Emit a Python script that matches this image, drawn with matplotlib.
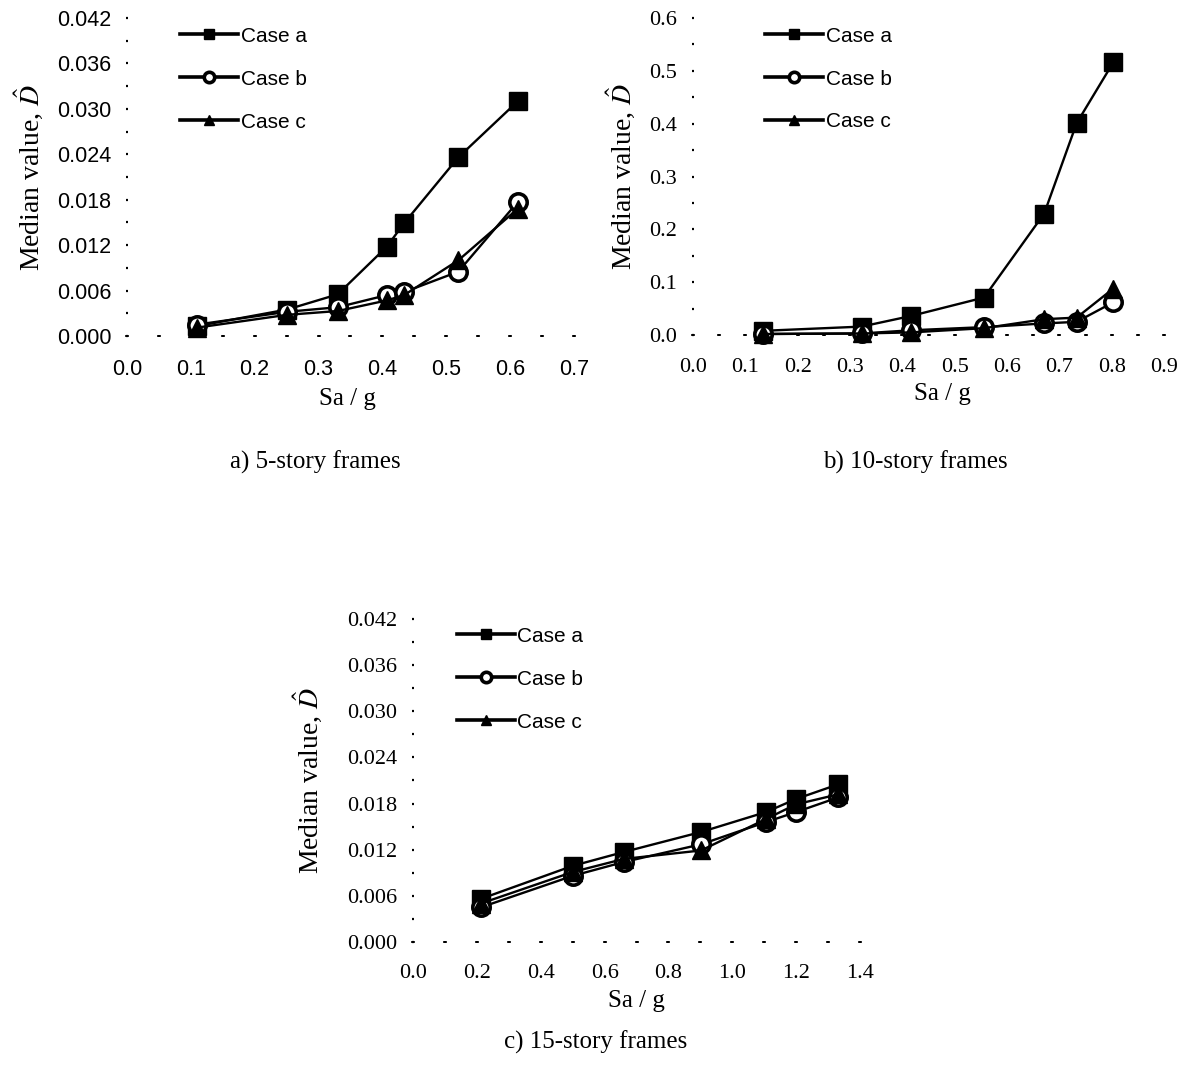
import matplotlib

matplotlib.use("Agg")
import matplotlib.pyplot as plt
from matplotlib.ticker import FormatStrFormatter, MultipleLocator

plt.rcParams["mathtext.fontset"] = "stix"

SERIF = "Liberation Serif"
SANS = "Liberation Sans"

CASE_LABELS = ["Case a", "Case b", "Case c"]

# 5-story frames
SA_5 = [0.109, 0.251, 0.330, 0.407, 0.434, 0.519, 0.612]
D5_CASE_A = [0.0013, 0.0035, 0.0055, 0.0118, 0.0149, 0.0236, 0.0310]
D5_CASE_B = [0.0015, 0.0032, 0.0038, 0.0054, 0.0058, 0.0085, 0.0177]
D5_CASE_C = [0.0011, 0.0028, 0.0033, 0.0047, 0.0054, 0.0100, 0.0168]

# 10-story frames
SA_10 = [0.134, 0.322, 0.416, 0.556, 0.671, 0.733, 0.803]
D10_CASE_A = [0.008, 0.016, 0.036, 0.071, 0.230, 0.401, 0.516]
D10_CASE_B = [0.002, 0.003, 0.009, 0.015, 0.022, 0.025, 0.062]
D10_CASE_C = [0.002, 0.003, 0.005, 0.013, 0.030, 0.033, 0.088]

# 15-story frames
SA_15 = [0.212, 0.500, 0.660, 0.902, 1.106, 1.200, 1.332]
D15_CASE_A = [0.0056, 0.0099, 0.0117, 0.0143, 0.0169, 0.0186, 0.0205]
D15_CASE_B = [0.0045, 0.0086, 0.0104, 0.0127, 0.0156, 0.0169, 0.0188]
D15_CASE_C = [0.0050, 0.0091, 0.0108, 0.0119, 0.0160, 0.0179, 0.0192]

MARKER_STYLES = [
    dict(marker="s", markersize=13, markerfacecolor="black", markeredgecolor="black"),
    dict(marker="o", markersize=12.5, markerfacecolor="white", markeredgecolor="black",
         markeredgewidth=2.6),
    dict(marker="^", markersize=13, markerfacecolor="black", markeredgecolor="black"),
]


def draw_panel(ax, sa, series, xmax, xmajor, ymax, ymajor, yfmt, tick_font,
               tick_size, legend_anchor, ylabel_x, xlabel_xy):
    for values, label, style in zip(series, CASE_LABELS, MARKER_STYLES):
        ax.plot(sa, values, color="black", linewidth=1.7, label=label,
                clip_on=False, **style)

    ax.set_xlim(0, xmax)
    ax.set_ylim(0, ymax)
    for spine in ax.spines.values():
        spine.set_visible(False)

    ax.xaxis.set_major_locator(MultipleLocator(xmajor))
    ax.xaxis.set_minor_locator(MultipleLocator(xmajor / 2))
    ax.yaxis.set_major_locator(MultipleLocator(ymajor))
    ax.yaxis.set_minor_locator(MultipleLocator(ymajor / 2))
    ax.xaxis.set_major_formatter(FormatStrFormatter("%.1f"))
    ax.yaxis.set_major_formatter(FormatStrFormatter(yfmt))

    # tick marks act as the dotted axis lines
    ax.tick_params(axis="x", which="both", direction="inout", length=1.4,
                   width=2.6, pad=15.5)
    ax.tick_params(axis="y", which="both", direction="inout", length=1.6,
                   width=1.6, pad=10.5)
    for lbl in ax.get_xticklabels() + ax.get_yticklabels():
        lbl.set_fontfamily(tick_font)
        lbl.set_fontsize(tick_size)

    ax.set_ylabel("Median value, $\\hat{D}$", fontfamily=SERIF, fontsize=20)
    ax.yaxis.set_label_coords(ylabel_x, 0.5)
    ax.set_xlabel("Sa / g", fontfamily=SERIF, fontsize=18)
    ax.xaxis.set_label_coords(*xlabel_xy)

    leg = ax.legend(loc="upper left", bbox_to_anchor=legend_anchor, frameon=False,
                    borderpad=0, borderaxespad=0, handlelength=2.8,
                    handletextpad=0.1, labelspacing=1.15, markerscale=0.6,
                    prop={"family": SANS, "size": 15})
    for line in leg.get_lines():
        line.set_linewidth(2.6)


def main():
    fig = plt.figure(figsize=(11.9, 10.65), dpi=100)

    ax_a = fig.add_axes([0.1067, 0.6845, 0.3756, 0.2986])
    ax_b = fig.add_axes([0.5824, 0.6854, 0.3958, 0.2977])
    ax_c = fig.add_axes([0.3471, 0.1155, 0.3756, 0.3033])

    draw_panel(ax_a, SA_5, [D5_CASE_A, D5_CASE_B, D5_CASE_C],
               0.7, 0.1, 0.042, 0.006, "%.3f", SANS, 15.5,
               (0.119, 0.973), -0.181, (0.494, -0.164))
    draw_panel(ax_b, SA_10, [D10_CASE_A, D10_CASE_B, D10_CASE_C],
               0.9, 0.1, 0.6, 0.1, "%.1f", SERIF, 16,
               (0.153, 0.973), -0.116, (0.529, -0.151))
    draw_panel(ax_c, SA_15, [D15_CASE_A, D15_CASE_B, D15_CASE_C],
               1.4, 0.2, 0.042, 0.006, "%.3f", SERIF, 16,
               (0.098, 0.976), -0.197, (0.5, -0.149))

    caption = dict(ha="center", va="center", fontfamily=SERIF, fontsize=18)
    fig.text(315 / 1190, 1 - 462 / 1065, "a) 5-story frames", **caption)
    fig.text(915 / 1190, 1 - 462 / 1065, "b) 10-story frames", **caption)
    fig.text(596 / 1190, 1 - 1042 / 1065, "c) 15-story frames", **caption)

    fig.savefig("out.png", dpi=100)
    plt.close(fig)


if __name__ == "__main__":
    main()
